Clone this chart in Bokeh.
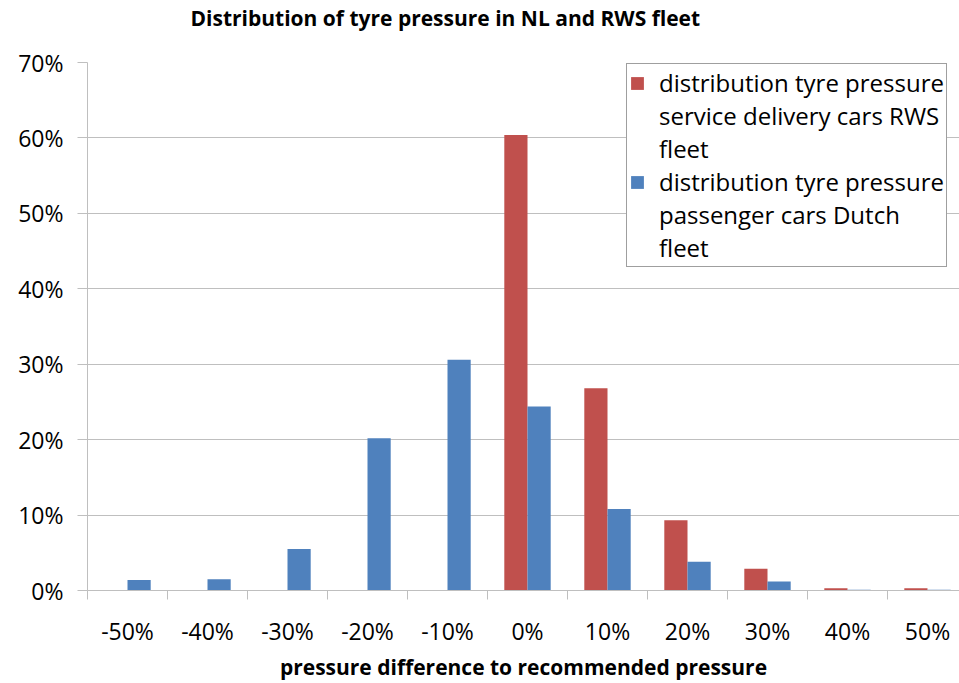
from bokeh.plotting import figure
from bokeh.models import (Range1d, FixedTicker, NumeralTickFormatter, Legend, LegendItem,
                          ColumnDataSource)
from bokeh.transform import dodge
from bokeh.embed import file_html
from bokeh.resources import INLINE

# ---- data ----
categories = ["-50%", "-40%", "-30%", "-20%", "-10%", "0%", "10%", "20%", "30%", "40%", "50%"]
rws_fleet = [0.0, 0.0, 0.0, 0.0, 0.0, 60.4, 26.8, 9.3, 2.9, 0.3, 0.3]        # % of cars
dutch_fleet = [1.4, 1.5, 5.5, 20.2, 30.6, 24.4, 10.8, 3.8, 1.2, 0.1, 0.1]    # % of cars
y_ticks = [0.0, 0.1, 0.2, 0.3, 0.4, 0.5, 0.6, 0.7]

title = "Distribution of tyre pressure in NL and RWS fleet"
x_label = "pressure difference to recommended pressure"
legend_red = ["distribution tyre pressure", "service delivery cars RWS", "fleet"]
legend_blue = ["distribution tyre pressure", "passenger cars Dutch", "fleet"]

RED = "#c0504d"
BLUE = "#4f81bd"
FONT = "Open Sans"

idx = list(range(len(categories)))
src = ColumnDataSource(dict(
    x=idx,
    rws=[v / 100 for v in rws_fleet],
    dutch=[v / 100 for v in dutch_fleet],
))

p = figure(width=959, height=683, output_backend="svg", toolbar_location=None,
           x_range=Range1d(-0.5, 10.4), y_range=Range1d(0, 0.7),
           min_border_left=87, min_border_right=0, min_border_top=62, min_border_bottom=91,
           title=title + "\n")   # empty second line lifts the title towards the top edge

p.title.text_font = FONT
p.title.text_font_size = "21px"
p.title.text_font_style = "bold"
p.title.text_color = "#000000"
p.title.align = "left"
p.title.vertical_align = "top"
p.title.offset = 103
p.title.standoff = 2

p.outline_line_color = None
p.background_fill_color = "white"
p.border_fill_color = "white"

r_red = p.vbar(x=dodge("x", -0.145), top="rws", width=0.29, source=src,
               fill_color=RED, line_color=None)
r_blue = p.vbar(x=dodge("x", 0.145), top="dutch", width=0.29, source=src,
                fill_color=BLUE, line_color=None)

# y axis
p.yaxis.ticker = FixedTicker(ticks=y_ticks, minor_ticks=[])
p.yaxis.formatter = NumeralTickFormatter(format="0%")
p.yaxis.axis_line_color = "#bfbfbf"
p.yaxis.major_tick_line_color = "#bfbfbf"
p.yaxis.major_tick_out = 10
p.yaxis.major_tick_in = 0
p.yaxis.minor_tick_line_color = None
p.yaxis.major_label_text_font = FONT
p.yaxis.major_label_text_font_size = "23px"
p.yaxis.major_label_text_color = "#000000"
p.yaxis.major_label_standoff = 14

p.ygrid.grid_line_color = "#bfbfbf"
p.ygrid.grid_line_width = 1
p.xgrid.grid_line_color = None

# x axis
p.xaxis.ticker = FixedTicker(ticks=idx, minor_ticks=[i - 0.5 for i in idx])
p.xaxis.major_label_overrides = {i: c for i, c in zip(idx, categories)}
p.xaxis.major_tick_line_color = None
p.xaxis.major_tick_out = 0
p.xaxis.major_tick_in = 0
p.xaxis.minor_tick_line_color = "#bfbfbf"
p.xaxis.minor_tick_out = 9
p.xaxis.minor_tick_in = 0
p.xaxis.axis_line_color = "#bfbfbf"
p.xaxis.major_label_text_font = FONT
p.xaxis.major_label_text_font_size = "23px"
p.xaxis.major_label_text_color = "#000000"
p.xaxis.major_label_standoff = 15
p.xaxis.axis_label = x_label
p.xaxis.axis_label_text_font = FONT
p.xaxis.axis_label_text_font_size = "21px"
p.xaxis.axis_label_text_font_style = "bold"
p.xaxis.axis_label_text_color = "#000000"
p.xaxis.axis_label_standoff = 3

# legend: one line per item, square only on the first line of each series
d_red1 = p.vbar(x=[], top=[], width=0.1, fill_alpha=0, line_alpha=0)
d_red2 = p.vbar(x=[], top=[], width=0.1, fill_alpha=0, line_alpha=0)
d_blue1 = p.vbar(x=[], top=[], width=0.1, fill_alpha=0, line_alpha=0)
d_blue2 = p.vbar(x=[], top=[], width=0.1, fill_alpha=0, line_alpha=0)

items = [
    LegendItem(label=legend_red[0], renderers=[r_red]),
    LegendItem(label=legend_red[1], renderers=[d_red1]),
    LegendItem(label=legend_red[2], renderers=[d_red2]),
    LegendItem(label=legend_blue[0], renderers=[r_blue]),
    LegendItem(label=legend_blue[1], renderers=[d_blue1]),
    LegendItem(label=legend_blue[2], renderers=[d_blue2]),
]
legend = Legend(items=items, location=(539, 323))
legend.label_text_font = FONT
legend.label_text_font_size = "24px"
legend.label_text_color = "#000000"
legend.label_height = 32
legend.label_text_baseline = "middle"
legend.glyph_width = 16
legend.glyph_height = 16
legend.label_standoff = 14
legend.padding = 2
legend.spacing = 0
legend.margin = 0
legend.border_line_color = "#404040"
legend.border_line_width = 1
legend.background_fill_color = "white"
legend.background_fill_alpha = 1
p.add_layout(legend, "center")

open("out.html", "w").write(file_html(p, INLINE))
